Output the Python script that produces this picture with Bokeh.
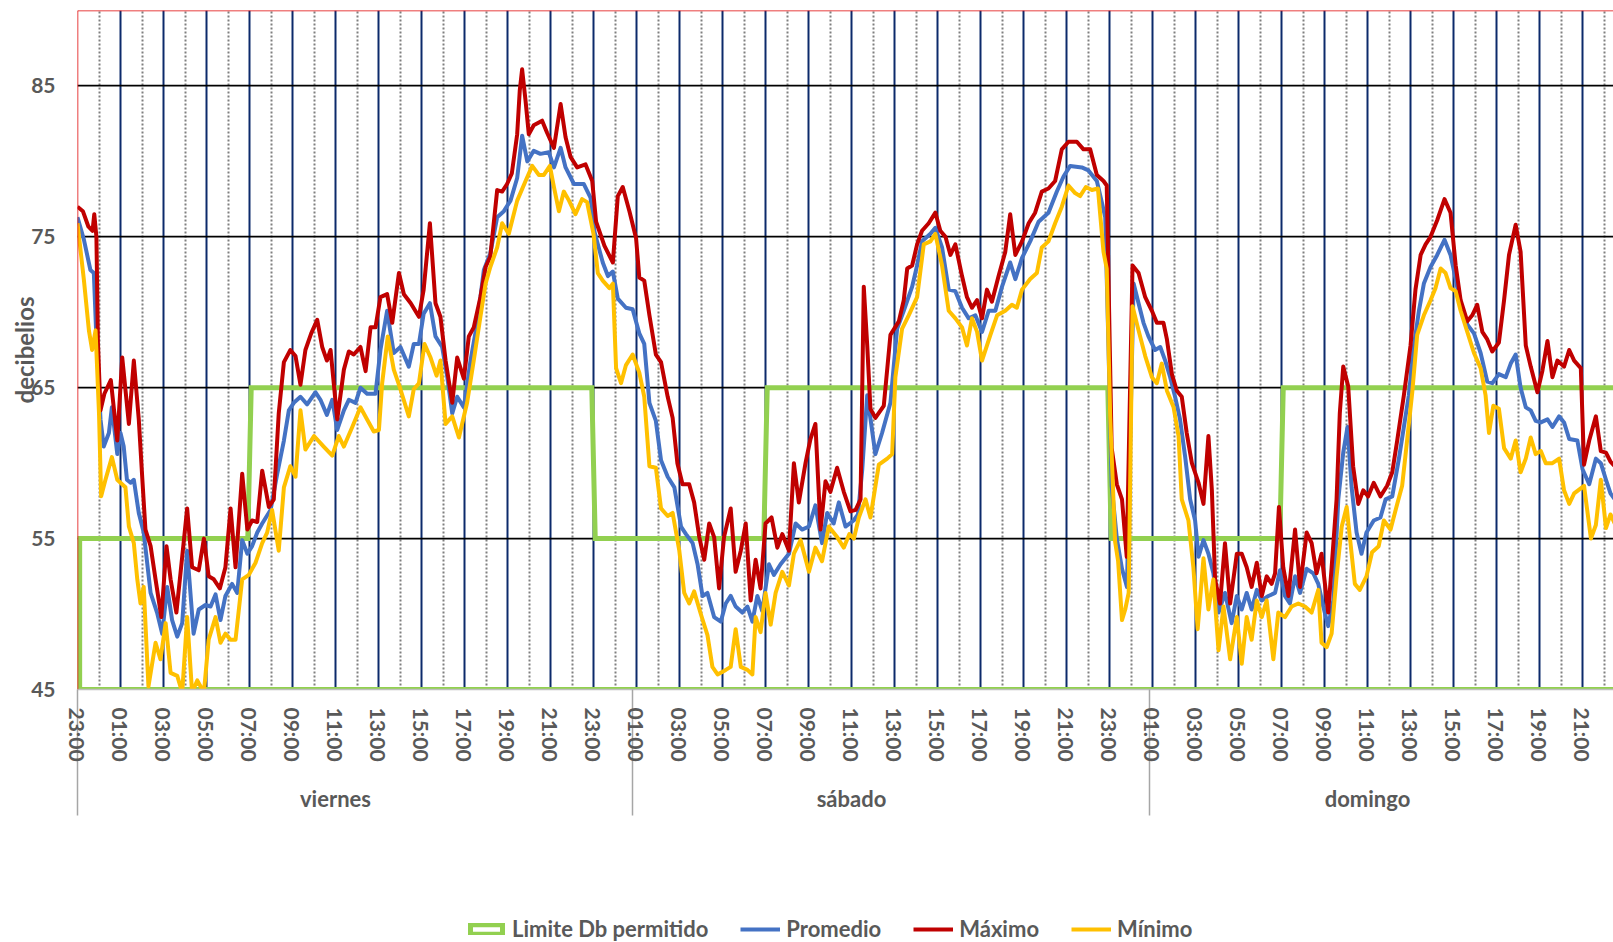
from bokeh.plotting import figure
from bokeh.layouts import column
from bokeh.models import FixedTicker, LinearAxis, Range1d, Span, Legend, LegendItem
from bokeh.embed import file_html
from bokeh.resources import INLINE

# hours counted from 23:00 on Thursday (start of the chart)
max_hours = [0.00, 0.25, 0.50, 0.70, 0.78, 0.88, 0.95, 1.07, 1.25, 1.55, 1.85, 2.08, 2.39, 2.62, 2.85, 3.00, 3.16, 3.40, 3.63, 3.90,
             4.14, 4.33, 4.60, 4.87, 5.10, 5.33, 5.64, 5.88, 6.10, 6.34, 6.62, 6.88, 7.12, 7.35, 7.66, 7.90, 8.12, 8.36, 8.59, 8.90,
             9.13, 9.36, 9.60, 9.90, 10.14, 10.37, 10.60, 10.87, 11.15, 11.38, 11.60, 11.77, 12.08, 12.39, 12.62, 12.85, 13.16, 13.40, 13.63, 13.86,
             14.09, 14.40, 14.64, 14.95, 15.18, 15.50, 15.88, 16.10, 16.39, 16.65, 16.88, 17.12, 17.43, 17.66, 17.97, 18.20, 18.43, 18.74, 18.98, 19.20,
             19.52, 19.75, 19.98, 20.20, 20.45, 20.57, 20.68, 20.84, 20.99, 21.22, 21.61, 21.84, 22.16, 22.47, 22.70, 22.93, 23.24, 23.63, 23.94, 24.12,
             24.51, 24.90, 25.13, 25.36, 25.67, 25.98, 26.13, 26.36, 26.60, 26.90, 27.14, 27.45, 27.68, 27.90, 28.14, 28.45, 28.68, 28.92, 29.15, 29.38,
             29.61, 29.84, 30.07, 30.38, 30.61, 30.85, 31.08, 31.31, 31.54, 31.77, 32.00, 32.28, 32.55, 32.78, 33.09, 33.32, 33.55, 33.86, 34.09, 34.32,
             34.56, 34.79, 35.02, 35.33, 35.64, 35.95, 36.19, 36.42, 36.57, 36.73, 36.88, 37.11, 37.50, 37.81, 38.20, 38.43, 38.59, 38.82, 39.05, 39.28,
             39.59, 39.90, 40.13, 40.37, 40.60, 40.83, 41.14, 41.37, 41.60, 41.84, 42.07, 42.30, 42.53, 42.84, 43.15, 43.38, 43.62, 43.93, 44.24, 44.54,
             44.85, 45.16, 45.47, 45.78, 46.09, 46.48, 46.79, 47.10, 47.41, 47.72, 47.87, 47.95, 48.10, 48.34, 48.58, 48.80, 49.07, 49.35, 49.66, 49.97,
             50.20, 50.51, 50.67, 50.90, 51.13, 51.36, 51.59, 51.83, 52.14, 52.37, 52.60, 52.76, 52.91, 53.14, 53.37, 53.61, 53.92, 54.15, 54.38, 54.61,
             54.85, 55.08, 55.31, 55.54, 55.70, 55.88, 56.08, 56.32, 56.63, 56.86, 57.17, 57.40, 57.63, 57.86, 58.17, 58.33, 58.56, 58.71, 58.87, 59.10,
             59.33, 59.57, 59.80, 60.03, 60.29, 60.60, 60.91, 61.15, 61.38, 61.69, 62.00, 62.23, 62.47, 62.70, 62.93, 63.24, 63.58, 63.86, 64.10, 64.33,
             64.64, 64.87, 65.10, 65.34, 65.57, 65.80, 66.11, 66.35, 66.58, 66.89, 67.12, 67.36, 67.59, 67.90, 68.13, 68.37, 68.60, 68.83, 69.14, 69.38,
             69.61, 69.92, 70.07, 70.31, 70.62, 70.85, 71.09, 71.30, 71.50]
max_db = [77.0, 76.7, 75.7, 75.4, 76.5, 75.0, 68.0, 63.5, 64.6, 65.5, 61.5, 67.0, 62.6, 66.8, 62.9, 59.3, 55.6, 54.5, 52.3, 49.8,
          54.5, 52.3, 50.1, 53.8, 57.0, 53.1, 52.9, 55.0, 52.5, 52.3, 51.7, 53.1, 57.0, 53.1, 59.3, 55.6, 56.2, 56.1, 59.5, 57.1,
          57.6, 63.3, 66.7, 67.5, 67.1, 65.2, 67.5, 68.6, 69.5, 67.7, 66.8, 67.5, 62.9, 66.2, 67.4, 67.2, 67.7, 66.1, 69.0, 69.0,
          71.0, 71.2, 69.3, 72.6, 71.2, 70.6, 69.7, 71.5, 75.9, 70.6, 69.7, 66.8, 64.0, 67.0, 65.6, 68.4, 69.0, 71.0, 73.0, 73.7,
          78.1, 78.0, 78.5, 79.2, 81.8, 84.7, 86.1, 84.0, 81.8, 82.4, 82.7, 81.9, 80.9, 83.8, 81.6, 80.3, 79.6, 79.8, 78.7, 76.0,
          74.4, 73.3, 77.7, 78.3, 76.7, 74.9, 72.3, 72.1, 69.8, 67.2, 66.7, 64.4, 63.0, 60.0, 58.6, 58.6, 57.4, 55.1, 53.6, 56.0,
          55.1, 51.7, 55.1, 57.0, 52.8, 54.2, 56.0, 50.9, 53.6, 51.7, 56.0, 56.4, 54.4, 55.3, 54.2, 60.0, 57.4, 60.0, 61.6, 62.6,
          55.6, 58.8, 58.1, 59.7, 58.1, 56.8, 56.9, 57.6, 71.7, 67.8, 63.6, 63.0, 63.8, 68.5, 69.4, 70.8, 72.9, 73.1, 74.5, 75.4,
          75.9, 76.6, 75.4, 75.0, 73.8, 74.5, 72.4, 71.0, 70.3, 70.8, 69.6, 71.5, 70.7, 72.4, 74.0, 76.5, 73.8, 74.7, 75.9, 76.6,
          78.0, 78.2, 78.7, 80.8, 81.3, 81.3, 80.8, 80.8, 79.1, 78.7, 78.4, 72.4, 61.0, 58.6, 57.6, 53.8, 73.1, 72.6, 71.0, 70.1,
          69.3, 69.3, 68.2, 65.9, 64.8, 64.4, 62.0, 60.0, 58.7, 57.3, 61.8, 58.2, 52.3, 50.7, 54.7, 50.7, 54.0, 54.0, 53.1, 51.8,
          53.4, 51.2, 52.5, 52.0, 52.7, 57.1, 53.1, 51.2, 55.6, 51.8, 55.4, 54.7, 52.7, 54.0, 50.1, 53.1, 57.6, 63.3, 66.4, 65.1,
          59.8, 57.3, 58.2, 57.8, 58.7, 57.8, 58.5, 59.4, 61.5, 64.5, 67.8, 71.5, 73.8, 74.5, 75.0, 76.1, 77.5, 76.6, 73.1, 70.8,
          69.4, 69.8, 70.5, 68.7, 68.2, 67.4, 68.0, 70.8, 73.8, 75.8, 74.0, 67.8, 66.4, 64.7, 66.1, 68.1, 65.7, 66.8, 66.4, 67.5,
          66.8, 66.3, 59.9, 61.5, 63.1, 60.8, 60.7, 60.1, 59.8]

prom_hours = [0.00, 0.30, 0.60, 0.76, 0.88, 1.07, 1.22, 1.46, 1.60, 1.85, 2.00, 2.15, 2.30, 2.47, 2.62, 2.85, 3.08, 3.40, 3.70, 3.94,
              4.17, 4.40, 4.64, 4.87, 5.10, 5.40, 5.64, 5.95, 6.19, 6.42, 6.65, 6.88, 7.19, 7.43, 7.66, 7.90, 8.12, 8.36, 8.59, 8.98,
              9.29, 9.60, 9.83, 10.06, 10.37, 10.68, 11.07, 11.30, 11.60, 11.85, 12.08, 12.39, 12.62, 12.93, 13.16, 13.47, 13.86, 14.09, 14.40, 14.71,
              15.02, 15.41, 15.64, 15.88, 16.10, 16.39, 16.65, 16.96, 17.20, 17.43, 17.66, 17.97, 18.28, 18.59, 18.90, 19.20, 19.52, 19.83, 20.14, 20.45,
              20.68, 20.92, 21.22, 21.53, 21.92, 22.16, 22.47, 22.70, 23.09, 23.55, 23.86, 24.05, 24.43, 24.67, 24.90, 25.13, 25.51, 25.82, 26.13, 26.36,
              26.60, 26.90, 27.14, 27.45, 27.76, 28.07, 28.30, 28.61, 28.84, 29.07, 29.30, 29.61, 29.92, 30.15, 30.38, 30.61, 30.92, 31.16, 31.39, 31.62,
              31.85, 32.16, 32.39, 32.70, 33.09, 33.40, 33.70, 34.02, 34.32, 34.63, 34.87, 35.17, 35.41, 35.72, 36.10, 36.30, 36.50, 36.73, 37.11, 37.42,
              37.81, 38.12, 38.43, 38.82, 39.05, 39.28, 39.67, 39.90, 40.21, 40.52, 40.83, 41.14, 41.45, 41.76, 42.07, 42.38, 42.69, 43.00, 43.38, 43.62,
              43.93, 44.31, 44.70, 45.16, 45.55, 45.86, 46.17, 46.71, 47.02, 47.41, 47.64, 47.80, 47.95, 48.10, 48.34, 48.58, 48.81, 49.12, 49.35, 49.58,
              49.81, 50.12, 50.36, 50.59, 50.82, 51.05, 51.28, 51.52, 51.75, 51.98, 52.14, 52.37, 52.60, 52.83, 53.07, 53.37, 53.68, 53.92, 54.15, 54.38,
              54.61, 54.85, 55.08, 55.39, 55.70, 55.93, 56.16, 56.39, 56.63, 56.86, 57.17, 57.48, 57.71, 57.94, 58.17, 58.41, 58.64, 58.87, 59.07, 59.26,
              59.49, 59.72, 59.95, 60.29, 60.60, 60.84, 61.15, 61.46, 61.69, 61.92, 62.16, 62.39, 62.62, 62.93, 63.24, 63.58, 63.86, 64.10, 64.33, 64.64,
              64.95, 65.26, 65.57, 65.80, 66.11, 66.43, 66.66, 66.89, 67.12, 67.36, 67.59, 67.82, 68.06, 68.37, 68.60, 68.91, 69.14, 69.38, 69.76, 70.00,
              70.31, 70.62, 70.85, 71.09, 71.30, 71.50]
prom_db = [76.3, 74.8, 72.8, 72.6, 68.2, 62.9, 61.1, 62.0, 63.7, 60.6, 62.0, 61.1, 58.9, 58.7, 58.9, 56.7, 55.4, 51.4, 50.1, 48.7,
           51.8, 49.6, 48.5, 49.4, 54.2, 48.7, 50.3, 50.6, 50.5, 51.3, 49.6, 51.2, 52.0, 51.4, 54.9, 54.0, 54.5, 55.4, 56.0, 56.9,
           59.3, 61.5, 63.5, 64.0, 64.4, 63.9, 64.7, 64.2, 63.2, 64.2, 62.2, 63.5, 64.2, 64.0, 65.0, 64.6, 64.6, 67.5, 70.1, 67.3,
           67.7, 66.4, 67.9, 67.9, 69.9, 70.6, 68.4, 67.7, 65.7, 63.3, 64.4, 63.7, 66.8, 69.3, 72.8, 73.9, 76.3, 76.7, 77.4, 78.9,
           81.7, 80.0, 80.7, 80.5, 80.6, 79.6, 80.9, 79.6, 78.5, 78.5, 77.6, 75.3, 73.3, 72.4, 72.7, 70.9, 70.3, 70.2, 68.6, 67.9,
           64.0, 62.8, 60.2, 59.1, 58.4, 55.8, 55.3, 54.7, 53.3, 51.2, 51.4, 49.8, 49.5, 50.7, 51.2, 50.5, 50.1, 50.5, 49.5, 51.2,
           50.2, 53.3, 52.6, 53.3, 54.0, 56.0, 55.6, 55.8, 57.2, 54.7, 56.7, 56.0, 57.4, 55.8, 56.2, 56.6, 59.6, 64.5, 60.6, 62.0,
           64.0, 68.9, 70.1, 71.7, 73.1, 74.7, 75.2, 75.6, 74.3, 71.5, 71.4, 70.3, 69.6, 69.8, 68.7, 70.1, 70.1, 71.7, 73.3, 72.2,
           73.6, 74.7, 76.0, 76.6, 78.0, 79.0, 79.7, 79.6, 79.4, 78.7, 77.3, 76.3, 67.8, 58.5, 55.0, 53.0, 51.8, 71.9, 70.6, 69.3,
           68.4, 67.5, 67.7, 66.8, 65.7, 64.4, 62.9, 60.4, 57.6, 56.2, 53.8, 54.9, 54.0, 52.7, 50.1, 51.4, 49.4, 51.2, 50.3, 51.4,
           50.3, 51.6, 50.9, 51.2, 51.4, 52.9, 51.2, 50.7, 52.5, 51.4, 53.0, 52.7, 52.0, 50.5, 49.2, 50.9, 57.6, 60.7, 62.4, 58.4,
           55.4, 54.0, 55.4, 56.2, 56.4, 57.6, 57.8, 60.3, 62.4, 64.5, 67.8, 70.1, 71.9, 73.0, 73.8, 74.8, 73.8, 72.2, 70.5, 69.2,
           68.6, 67.3, 65.4, 65.3, 65.9, 65.7, 66.6, 67.2, 65.0, 63.7, 63.5, 62.8, 62.7, 62.9, 62.4, 63.1, 62.7, 61.6, 61.5, 59.6,
           58.6, 60.3, 60.0, 58.9, 58.0, 57.6]

min_hours = [0.00, 0.30, 0.53, 0.68, 0.84, 1.00, 1.10, 1.30, 1.60, 1.85, 2.00, 2.23, 2.39, 2.62, 2.78, 2.93, 3.08, 3.30, 3.63, 3.86,
             4.10, 4.33, 4.64, 4.87, 5.10, 5.33, 5.57, 5.88, 6.10, 6.42, 6.65, 6.88, 7.12, 7.35, 7.66, 7.97, 8.28, 8.59, 8.82, 9.05,
             9.36, 9.60, 9.90, 10.14, 10.37, 10.60, 11.00, 11.45, 11.85, 12.15, 12.39, 12.78, 13.16, 13.47, 13.78, 14.02, 14.17, 14.43, 14.71, 15.02,
             15.41, 15.64, 15.88, 16.14, 16.42, 16.70, 16.88, 17.12, 17.43, 17.74, 18.12, 18.43, 18.74, 18.98, 19.20, 19.52, 19.75, 20.06, 20.45, 20.84,
             21.15, 21.46, 21.69, 21.97, 22.16, 22.39, 22.62, 22.86, 23.16, 23.47, 23.70, 24.00, 24.20, 24.43, 24.74, 24.90, 25.05, 25.28, 25.51, 25.82,
             26.13, 26.36, 26.60, 26.90, 27.14, 27.45, 27.68, 27.99, 28.22, 28.45, 28.68, 28.99, 29.30, 29.53, 29.77, 30.15, 30.38, 30.61, 30.85, 31.16,
             31.39, 31.54, 31.77, 32.00, 32.24, 32.47, 32.78, 33.09, 33.32, 33.63, 34.02, 34.32, 34.63, 34.94, 35.33, 35.64, 35.90, 36.11, 36.34, 36.65,
             36.88, 37.27, 37.66, 37.89, 38.04, 38.35, 38.66, 39.05, 39.36, 39.67, 39.90, 40.21, 40.52, 40.83, 41.14, 41.37, 41.60, 41.84, 42.07, 42.46,
             42.77, 43.15, 43.46, 43.69, 43.93, 44.31, 44.62, 44.85, 45.16, 45.47, 45.78, 46.09, 46.40, 46.63, 46.90, 47.18, 47.46, 47.72, 47.87, 48.03,
             48.26, 48.40, 48.58, 48.73, 48.89, 49.07, 49.35, 49.66, 49.97, 50.20, 50.43, 50.67, 50.98, 51.21, 51.36, 51.67, 51.90, 52.10, 52.37, 52.60,
             52.83, 53.07, 53.30, 53.61, 53.92, 54.15, 54.38, 54.61, 54.85, 55.08, 55.31, 55.62, 55.85, 56.16, 56.47, 56.78, 57.09, 57.40, 57.71, 57.86,
             58.10, 58.33, 58.56, 58.80, 59.03, 59.26, 59.41, 59.64, 59.95, 60.21, 60.52, 60.76, 61.07, 61.38, 61.61, 61.84, 62.08, 62.31, 62.62, 62.93,
             63.16, 63.40, 63.63, 63.86, 64.10, 64.33, 64.64, 64.95, 65.26, 65.49, 65.65, 65.85, 66.11, 66.35, 66.66, 66.89, 67.12, 67.36, 67.59, 67.82,
             68.06, 68.29, 68.60, 68.91, 69.14, 69.38, 69.61, 70.07, 70.39, 70.62, 70.85, 71.09, 71.30, 71.50]
min_db = [75.9, 72.1, 68.8, 67.5, 68.8, 63.3, 57.8, 58.9, 60.4, 58.9, 58.7, 58.4, 55.8, 54.7, 52.3, 50.7, 51.8, 45.2, 48.1, 47.0,
          49.4, 46.1, 45.9, 44.8, 49.8, 44.8, 45.6, 44.8, 48.3, 49.8, 48.1, 48.7, 48.3, 48.3, 52.3, 52.6, 53.4, 54.7, 55.4, 56.9,
          54.2, 58.4, 59.8, 59.1, 63.5, 60.9, 61.8, 61.1, 60.5, 61.8, 61.1, 62.4, 63.7, 62.9, 62.1, 62.2, 65.3, 68.4, 66.2, 64.9,
          63.1, 64.9, 65.3, 67.9, 67.0, 65.8, 66.8, 62.6, 63.1, 61.7, 64.0, 66.8, 69.7, 71.9, 73.0, 74.3, 75.9, 75.2, 77.4, 78.7,
          79.7, 79.1, 79.1, 79.7, 78.3, 76.7, 78.0, 77.4, 76.5, 77.5, 77.3, 75.2, 72.6, 72.1, 71.6, 71.9, 66.3, 65.3, 66.5, 67.2,
          66.0, 64.4, 59.8, 59.7, 57.0, 56.5, 56.7, 54.2, 51.4, 50.7, 51.5, 50.0, 48.6, 46.5, 46.0, 46.3, 46.5, 49.0, 46.5, 46.3,
          46.0, 49.8, 48.8, 51.4, 49.3, 51.4, 52.8, 51.9, 54.0, 54.9, 52.8, 54.4, 53.5, 55.8, 55.1, 54.4, 55.3, 55.0, 56.4, 57.6,
          56.4, 59.9, 60.3, 60.6, 65.7, 68.9, 69.8, 71.0, 74.5, 74.7, 75.2, 73.1, 70.1, 69.6, 69.0, 67.8, 69.6, 68.7, 66.8, 68.5,
          69.8, 70.1, 70.5, 70.3, 71.5, 72.2, 72.6, 74.3, 74.7, 75.9, 77.0, 78.4, 77.9, 77.7, 78.3, 78.1, 78.2, 74.0, 72.9, 63.1,
          54.8, 53.5, 49.6, 50.3, 51.4, 70.4, 68.8, 67.1, 65.7, 65.3, 66.6, 64.8, 63.7, 61.8, 57.6, 56.2, 53.1, 49.0, 53.7, 50.3,
          52.3, 47.6, 50.5, 47.0, 49.8, 46.7, 49.8, 48.3, 50.9, 49.8, 50.9, 47.0, 50.1, 49.8, 50.5, 50.7, 50.5, 50.1, 51.6, 48.1,
          47.8, 48.7, 52.5, 55.8, 57.1, 54.0, 52.0, 51.6, 52.5, 54.1, 54.5, 56.2, 55.6, 57.3, 58.5, 61.5, 64.7, 68.5, 69.8, 70.8,
          71.6, 72.9, 72.6, 71.6, 71.4, 70.1, 68.7, 67.3, 66.3, 64.5, 62.0, 63.8, 63.6, 61.0, 60.3, 61.5, 59.4, 60.3, 61.7, 60.6,
          60.8, 60.0, 60.0, 60.3, 58.2, 57.3, 58.0, 58.5, 55.0, 55.9, 58.9, 55.7, 56.6, 56.0]

# permitted limit (night 55 dB, day 65 dB)
limit_change_hours = [0.1, 8, 24, 32, 48, 56]
limit_db = [55, 65, 55, 65, 55, 65]
limit_floor = 45

tick_hours = list(range(0, 71, 2))
tick_labels = ["23:00", "01:00", "03:00", "05:00", "07:00", "09:00", "11:00", "13:00", "15:00", "17:00", "19:00", "21:00",
               "23:00", "01:00", "03:00", "05:00", "07:00", "09:00", "11:00", "13:00", "15:00", "17:00", "19:00", "21:00",
               "23:00", "01:00", "03:00", "05:00", "07:00", "09:00", "11:00", "13:00", "15:00", "17:00", "19:00", "21:00"]
day_names = ["viernes", "sábado", "domingo"]
day_label_hours = [12, 36, 60]
day_boundary_hours = [0, 25.8, 49.85]
y_ticks = [45, 55, 65, 75, 85]

X_END = 71.44
FONT = "Lato"
GRAY = "#595959"
C_LIM, C_PROM, C_MAX, C_MIN = "#92D050", "#4472C4", "#C00000", "#FFC000"
LW = 4

p = figure(width=1613, height=905, output_backend="svg", toolbar_location=None,
           x_range=Range1d(0, X_END), y_range=Range1d(45, 90),
           min_border_left=77, min_border_right=0, min_border_top=10, min_border_bottom=216,
           background_fill_color="white", border_fill_color="white", outline_line_color=None)

# grids
p.xgrid.ticker = FixedTicker(ticks=list(range(2, 72, 2)), minor_ticks=list(range(1, 72, 2)))
p.xgrid.grid_line_color = "#0C2A6B"
p.xgrid.grid_line_width = 2
p.xgrid.minor_grid_line_color = "#7F7F7F"
p.xgrid.minor_grid_line_width = 2
p.xgrid.minor_grid_line_dash = "2 2"
p.ygrid.ticker = FixedTicker(ticks=[55, 65, 75, 85])
p.ygrid.grid_line_color = "black"
p.ygrid.grid_line_width = 1.75

# limit area (outline only)
lx, ly = [limit_change_hours[0]], [limit_floor]
for i, (h, v) in enumerate(zip(limit_change_hours, limit_db)):
    end = limit_change_hours[i + 1] - 0.08 if i + 1 < len(limit_change_hours) else X_END + 1
    start = h + 0.08 if i > 0 else h
    lx += [start, end]
    ly += [v, v]
lx += [X_END + 1]
ly += [limit_floor]

def draw_series(fig):
    r1 = fig.patch(lx, ly, fill_color="white", fill_alpha=0.0, line_color=C_LIM, line_width=5, line_join="miter")
    r2 = fig.line(prom_hours, prom_db, line_color=C_PROM, line_width=LW, line_join="round")
    r3 = fig.line(max_hours, max_db, line_color=C_MAX, line_width=LW, line_join="round")
    r4 = fig.line(min_hours, min_db, line_color=C_MIN, line_width=LW, line_join="round")
    return r1, r2, r3, r4

draw_series(p)

# plot-area border (top and left)
p.add_layout(Span(location=90, dimension="width", line_color="#E00000", line_width=1.5))
p.add_layout(Span(location=0, dimension="height", line_color="#E00000", line_width=1.5))

# y axis
ya = p.yaxis[0]
ya.ticker = FixedTicker(ticks=y_ticks)
ya.axis_line_color = None
ya.major_tick_line_color = None
ya.minor_tick_line_color = None
ya.major_tick_out = 0
ya.major_tick_in = 0
ya.major_label_standoff = 22
ya.major_label_text_font = FONT
ya.major_label_text_font_style = "bold"
ya.major_label_text_font_size = "21px"
ya.major_label_text_color = GRAY
ya.axis_label = "decibelios"
ya.axis_label_text_font = FONT
ya.axis_label_text_font_style = "bold"
ya.axis_label_text_font_size = "24px"
ya.axis_label_text_color = GRAY
ya.axis_label_standoff = -11

# x axis: hours (minor ticks = day separators)
xa = p.xaxis[0]
xa.ticker = FixedTicker(ticks=tick_hours, minor_ticks=day_boundary_hours)
xa.major_label_overrides = {h: lab for h, lab in zip(tick_hours, tick_labels)}
xa.major_label_orientation = "vertical"
xa.major_tick_out = 0
xa.major_tick_in = 0
xa.major_tick_line_color = None
xa.minor_tick_in = 0
xa.minor_tick_out = 126
xa.minor_tick_line_color = "#A6A6A6"
xa.minor_tick_line_width = 1.5
xa.axis_line_color = "#BFBFBF"
xa.axis_line_width = 1.5
xa.major_label_standoff = -108
xa.major_label_text_font = FONT
xa.major_label_text_font_style = "bold"
xa.major_label_text_font_size = "21px"
xa.major_label_text_color = GRAY

# x axis: days
da = LinearAxis(ticker=FixedTicker(ticks=day_label_hours),
                major_label_overrides={h: d for h, d in zip(day_label_hours, day_names)})
da.axis_line_color = None
da.major_tick_line_color = None
da.minor_tick_line_color = None
da.major_tick_out = 0
da.major_tick_in = 0
da.major_label_standoff = 20
da.major_label_text_font = FONT
da.major_label_text_font_style = "bold"
da.major_label_text_font_size = "22px"
da.major_label_text_color = GRAY
p.add_layout(da, "below")

# legend strip below the chart (same series, drawn outside this strip's ranges)
q = figure(width=1613, height=37, output_backend="svg", toolbar_location=None,
           x_axis_type=None, y_axis_type=None, x_range=Range1d(0, 1), y_range=Range1d(0, 1),
           min_border=0, outline_line_color=None, background_fill_color="white", border_fill_color="white")
g_lim, g_prom, g_max, g_min = draw_series(q)
legend = Legend(items=[LegendItem(label="Limite Db permitido", renderers=[g_lim]),
                       LegendItem(label="Promedio", renderers=[g_prom]),
                       LegendItem(label="Máximo", renderers=[g_max]),
                       LegendItem(label="Mínimo", renderers=[g_min])],
                orientation="horizontal", location=(389, 0),
                glyph_width=40, glyph_height=12, label_standoff=6, spacing=32,
                padding=0, margin=0, border_line_color=None, background_fill_alpha=0,
                label_text_font=FONT, label_text_font_style="bold", label_text_font_size="22px",
                label_text_color=GRAY)
q.add_layout(legend, "center")

open("out.html", "w").write(file_html(column(p, q, spacing=0), INLINE))
